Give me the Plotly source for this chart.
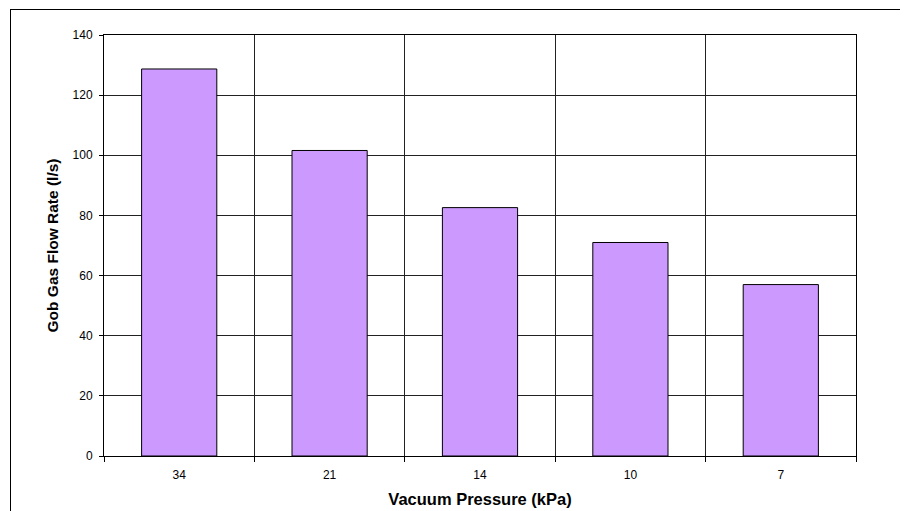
import plotly.graph_objects as go

# Vazão de gás por pressão de vácuo
pressoes = ["34", "21", "14", "10", "7"]
vazao = [128.7, 101.6, 82.6, 71.0, 57.0]

fig = go.Figure(
    go.Bar(
        x=pressoes,
        y=vazao,
        marker=dict(color="#CC99FF", line=dict(color="#000000", width=1)),
        width=0.5,
    )
)

# a página tem margem de 8px no body, por isso a figura é 900x503
L, R, T, B = 96, 52, 27, 55
W, H = 900, 503
pw, ph = W - L - R, H - T - B

fig.update_layout(
    width=W,
    height=H,
    margin=dict(l=L, r=R, t=T, b=B),
    plot_bgcolor="white",
    paper_bgcolor="white",
    font=dict(family="Liberation Sans, Arial", size=12, color="black"),
    showlegend=False,
    shapes=[
        # moldura externa do gráfico (linha superior e esquerda)
        dict(type="line", xref="paper", yref="paper",
             x0=(2 - L) / pw, x1=(W + 5 - L) / pw,
             y0=(H - B - 1.5) / ph, y1=(H - B - 1.5) / ph,
             line=dict(color="black", width=1)),
        dict(type="line", xref="paper", yref="paper",
             x0=(2.5 - L) / pw, x1=(2.5 - L) / pw,
             y0=(H - B - 1.5) / ph, y1=(H - B - H - 5) / ph,
             line=dict(color="black", width=1)),
    ],
)

fig.update_xaxes(
    title=dict(text="<b>Vacuum Pressure (kPa)</b>", font=dict(size=16.5), standoff=12),
    automargin=False,
    tickson="boundaries",
    ticks="outside",
    ticklen=5,
    tickcolor="black",
    ticklabelstandoff=8,
    showgrid=True,
    gridcolor="#222222",
    gridwidth=1,
    showline=True,
    linecolor="black",
    mirror=True,
)

fig.update_yaxes(
    title=dict(text="<b>Gob Gas Flow Rate (l/s)</b>", font=dict(size=15.5), standoff=10),
    automargin=False,
    range=[0, 140],
    dtick=20,
    ticks="outside",
    ticklen=4,
    tickcolor="black",
    ticklabelstandoff=4,
    showgrid=True,
    gridcolor="#222222",
    gridwidth=1,
    showline=True,
    linecolor="black",
    mirror=True,
    zeroline=False,
)

fig.write_html("out.html")
